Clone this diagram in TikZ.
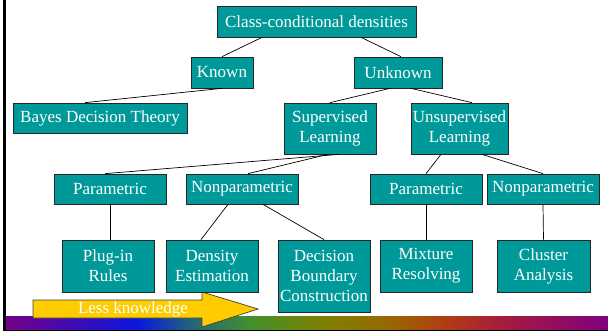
\documentclass[tikz,border=0pt]{standalone}
\usepackage{fontspec}
\setmainfont{Liberation Serif}
\usetikzlibrary{calc,positioning,shadows}
\definecolor{boxteal}{HTML}{009999}
\definecolor{arrowgold}{HTML}{FFCC00}
\pgfdeclarehorizontalshading{rainbowbar}{100bp}{%
  color(0bp)=(rgb:red,0.6;green,0;blue,0.7);
  color(25bp)=(rgb:red,0.6;green,0;blue,0.7);
  color(35.9bp)=(rgb:red,0.05;green,0.1;blue,1);
  color(40.6bp)=(rgb:red,0.15;green,0.45;blue,0.5);
  color(45.4bp)=(rgb:red,0.3;green,0.65;blue,0.2);
  color(51.5bp)=(rgb:red,1;green,1;blue,0);
  color(56.9bp)=(rgb:red,0.95;green,0.65;blue,0);
  color(61.7bp)=(rgb:red,0.9;green,0.3;blue,0.1);
  color(66.4bp)=(rgb:red,0.9;green,0.15;blue,0.35);
  color(75bp)=(rgb:red,0.65;green,0;blue,0.65);
  color(100bp)=(rgb:red,0.65;green,0;blue,0.65)}
\tikzstyle{box}   =[rectangle, draw=black!85, fill=boxteal, text=white,
                    line width=0.7pt, align=center, inner sep=0pt,
                    font=\fontsize{17}{20}\selectfont,
                    drop shadow={shadow xshift=1pt, shadow yshift=-1pt,
                    fill=black!35, opacity=1}]
\tikzstyle{edge}  =[line width=0.7pt, black]
\tikzstyle{label} =[inner sep=1pt, fill=none, draw=none, text=white,
                    font=\fontsize{17}{20}\selectfont]
\begin{document}
\begin{tikzpicture}[x=1pt, y=-1pt]
            \useasboundingbox (0,0) rectangle (608,331);
            \begin{scope}
                \shade[shading=rainbowbar] (6,316) rectangle (608,329.5);
                \draw[line width=2.5pt] (4.5,0) -- (4.5,331);
                \draw[line width=2pt] (3.5,330.5) -- (608,330.5);
            \end{scope}
            \begin{scope}
                \coordinate (a1) at (33,300);
                \coordinate (a2) at (202,300);
                \coordinate (a3) at (202,292);
                \coordinate (a4) at (258,309);
                \coordinate (a5) at (202,327);
                \coordinate (a6) at (202,318);
                \coordinate (a7) at (33,318);
                \draw[fill=arrowgold, draw=black!75, line width=0.7pt]
                    (a1) -- (a2) -- (a3) -- (a4) -- (a5) -- (a6) -- (a7) -- cycle;
                \node (less) [label] at (133,309) {Less knowledge};
            \end{scope}
            \begin{scope}[every node/.style={box}]
                \node (cls) [minimum width=199, minimum height=31] at (316.5,21.5) {Class-conditional densities};
                \node (known) [minimum width=62, minimum height=31] at (222,72.5) {Known};
                \node (unknown) [minimum width=88, minimum height=31] at (398,72.5) {Unknown};
                \node (bayes) [minimum width=174, minimum height=30] at (100,118) {Bayes Decision Theory};
                \node (sup) [minimum width=92, minimum height=51] at (330,128.5) {Supervised\\Learning};
                \node (unsup) [minimum width=97, minimum height=51] at (459.5,128.5) {Unsupervised\\Learning};
                \node (parL) [minimum width=112, minimum height=30] at (110,189) {Parametric};
                \node (nonparL) [minimum width=112, minimum height=30] at (242,189) {Nonparametric};
                \node (parR) [minimum width=112, minimum height=30] at (426,189) {Parametric};
                \node (nonparR) [minimum width=112, minimum height=30] at (543,189) {Nonparametric};
                \node (plugin) [minimum width=92, minimum height=52] at (108,266) {Plug-in\\Rules};
                \node (density) [minimum width=92, minimum height=52] at (212,266) {Density\\Estimation};
                \node (decision) [minimum width=92, minimum height=72] at (324,276) {Decision\\Boundary\\Construction};
                \node (mixture) [minimum width=92, minimum height=52] at (426,266) {Mixture\\Resolving};
                \node (cluster) [minimum width=93, minimum height=52] at (543.5,266) {Cluster\\Analysis};
            \end{scope}
            \begin{scope}[edge]
                \draw ([xshift=-54.5pt]cls.south) to (known.north);
                \draw ([xshift=44.5pt]cls.south) to ([xshift=3pt]unknown.north);
                \draw (known.south) to ([xshift=-15pt]bayes.north);
                \draw ([xshift=-8pt]unknown.south) to (sup.north);
                \draw ([xshift=13pt]unknown.south) to ([xshift=12.5pt]unsup.north);
                \draw ([xshift=9pt]sup.south) to ([xshift=-5pt]parL.north);
                \draw ([xshift=-2pt]sup.south) to ([xshift=6pt]nonparL.north);
                \draw ([xshift=-18.5pt]unsup.south) to (parR.north);
                \draw ([xshift=22.5pt]unsup.south) to (nonparR.north);
                \draw (parL.south) to (parL.south |- plugin.north);
                \draw ([xshift=-14pt]nonparL.south) to ([xshift=-11pt]density.north);
                \draw ([xshift=21pt]nonparL.south) to (decision.north);
                \draw (parR.south) to (mixture.north);
                \draw (nonparR.south) to (cluster.north);
            \end{scope}
        \end{tikzpicture}
\end{document}
